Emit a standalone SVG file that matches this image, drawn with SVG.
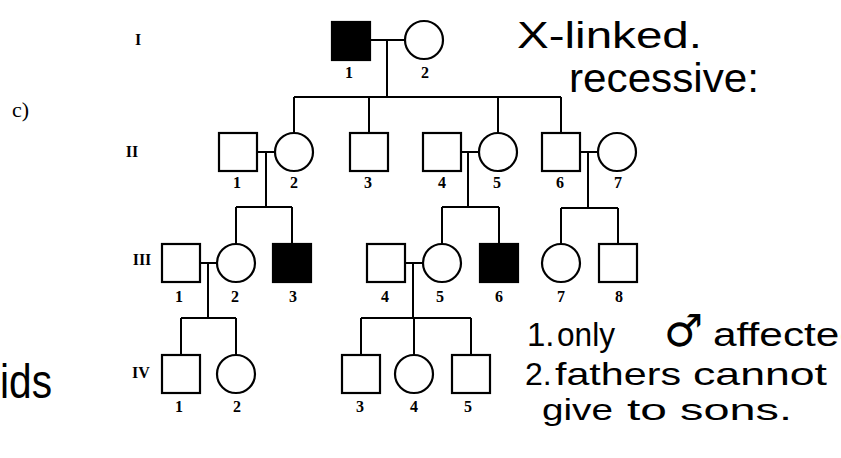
<svg xmlns="http://www.w3.org/2000/svg" width="841" height="458" viewBox="0 0 841 458">
  <style>
    .ln { stroke: #000; stroke-width: 2; fill: none; }
    .open { fill: #fff; stroke: #000; stroke-width: 2.2; }
    .aff { fill: #000; stroke: #000; stroke-width: 2.2; }
    .num { font-family: "Liberation Serif", "Times New Roman", serif; font-weight: bold; font-size: 16px; text-anchor: middle; fill: #000; }
    .gen { font-family: "Liberation Serif", "Times New Roman", serif; font-weight: bold; font-size: 16px; text-anchor: middle; fill: #000; }
    .lbl { font-family: "Liberation Serif", "Times New Roman", serif; font-size: 22px; fill: #000; }
    .hw { font-family: "Liberation Sans", "DejaVu Sans", sans-serif; fill: #000; }
  </style>
  <rect width="841" height="458" fill="#fff"/>

  <!-- part label and generation numerals -->
  <text class="lbl" x="12" y="117">c)</text>
  <text class="gen" x="138" y="45">I</text>
  <text class="gen" x="132" y="157">II</text>
  <text class="gen" x="142" y="265">III</text>
  <text class="gen" x="141" y="378">IV</text>

  <!-- mating, descent and sibship lines -->
  <g id="connectors">
    <!-- generation I -->
    <line class="ln" x1="370" y1="40" x2="405" y2="40"/>
    <line class="ln" x1="387" y1="40" x2="387" y2="97"/>
    <line class="ln" x1="294" y1="97" x2="561" y2="97"/>
    <line class="ln" x1="294" y1="97" x2="294" y2="133"/>
    <line class="ln" x1="369" y1="97" x2="369" y2="133"/>
    <line class="ln" x1="498" y1="97" x2="498" y2="133"/>
    <line class="ln" x1="561" y1="97" x2="561" y2="133"/>
    <!-- generation II couples -->
    <line class="ln" x1="257" y1="152" x2="275" y2="152"/>
    <line class="ln" x1="266" y1="152" x2="266" y2="207"/>
    <line class="ln" x1="236" y1="207" x2="292" y2="207"/>
    <line class="ln" x1="236" y1="207" x2="236" y2="244"/>
    <line class="ln" x1="292" y1="207" x2="292" y2="244"/>
    <line class="ln" x1="461" y1="152" x2="479" y2="152"/>
    <line class="ln" x1="468" y1="152" x2="468" y2="207"/>
    <line class="ln" x1="442" y1="207" x2="499" y2="207"/>
    <line class="ln" x1="442" y1="207" x2="442" y2="244"/>
    <line class="ln" x1="499" y1="207" x2="499" y2="244"/>
    <line class="ln" x1="580" y1="152" x2="598" y2="152"/>
    <line class="ln" x1="588" y1="152" x2="588" y2="208"/>
    <line class="ln" x1="561" y1="208" x2="618" y2="208"/>
    <line class="ln" x1="561" y1="208" x2="561" y2="244"/>
    <line class="ln" x1="618" y1="208" x2="618" y2="244"/>
    <!-- generation III couples -->
    <line class="ln" x1="200" y1="263" x2="217" y2="263"/>
    <line class="ln" x1="208" y1="263" x2="208" y2="318"/>
    <line class="ln" x1="181" y1="318" x2="236" y2="318"/>
    <line class="ln" x1="181" y1="318" x2="181" y2="355"/>
    <line class="ln" x1="236" y1="318" x2="236" y2="355"/>
    <line class="ln" x1="405" y1="263" x2="423" y2="263"/>
    <line class="ln" x1="413" y1="263" x2="413" y2="318"/>
    <line class="ln" x1="361" y1="318" x2="471" y2="318"/>
    <line class="ln" x1="361" y1="318" x2="361" y2="355"/>
    <line class="ln" x1="414" y1="318" x2="414" y2="355"/>
    <line class="ln" x1="471" y1="318" x2="471" y2="355"/>
  </g>

  <!-- generation I -->
  <g id="I-1"><rect class="aff" x="332" y="22" width="38" height="38"/><text class="num" x="349" y="78">1</text></g>
  <g id="I-2"><circle class="open" cx="424" cy="40" r="19"/><text class="num" x="425" y="78">2</text></g>

  <!-- generation II -->
  <g id="II-1"><rect class="open" x="219" y="133" width="38" height="38"/><text class="num" x="237" y="188">1</text></g>
  <g id="II-2"><circle class="open" cx="294" cy="152" r="19"/><text class="num" x="294" y="188">2</text></g>
  <g id="II-3"><rect class="open" x="350" y="133" width="38" height="38"/><text class="num" x="368" y="188">3</text></g>
  <g id="II-4"><rect class="open" x="423" y="133" width="38" height="38"/><text class="num" x="442" y="188">4</text></g>
  <g id="II-5"><circle class="open" cx="498" cy="152" r="19"/><text class="num" x="497" y="188">5</text></g>
  <g id="II-6"><rect class="open" x="542" y="133" width="38" height="38"/><text class="num" x="560" y="188">6</text></g>
  <g id="II-7"><circle class="open" cx="617" cy="152" r="19"/><text class="num" x="618" y="188">7</text></g>

  <!-- generation III -->
  <g id="III-1"><rect class="open" x="162" y="244" width="38" height="38"/><text class="num" x="179" y="302">1</text></g>
  <g id="III-2"><circle class="open" cx="236" cy="263" r="19"/><text class="num" x="235" y="302">2</text></g>
  <g id="III-3"><rect class="aff" x="273" y="244" width="38" height="38"/><text class="num" x="293" y="302">3</text></g>
  <g id="III-4"><rect class="open" x="367" y="244" width="38" height="38"/><text class="num" x="385" y="302">4</text></g>
  <g id="III-5"><circle class="open" cx="442" cy="263" r="19"/><text class="num" x="440" y="302">5</text></g>
  <g id="III-6"><rect class="aff" x="480" y="244" width="38" height="38"/><text class="num" x="499" y="302">6</text></g>
  <g id="III-7"><circle class="open" cx="561" cy="263" r="19"/><text class="num" x="561" y="302">7</text></g>
  <g id="III-8"><rect class="open" x="599" y="244" width="38" height="38"/><text class="num" x="619" y="302">8</text></g>

  <!-- generation IV -->
  <g id="IV-1"><rect class="open" x="162" y="355" width="38" height="38"/><text class="num" x="179" y="412">1</text></g>
  <g id="IV-2"><circle class="open" cx="236" cy="374" r="19"/><text class="num" x="237" y="412">2</text></g>
  <g id="IV-3"><rect class="open" x="342" y="355" width="38" height="38"/><text class="num" x="360" y="412">3</text></g>
  <g id="IV-4"><circle class="open" cx="414" cy="374" r="19"/><text class="num" x="414" y="412">4</text></g>
  <g id="IV-5"><rect class="open" x="452" y="355" width="38" height="38"/><text class="num" x="468" y="412">5</text></g>

  <!-- handwritten notes -->
  <g id="notes">
    <text class="hw" x="517" y="48" font-size="36" textLength="185" lengthAdjust="spacingAndGlyphs">X-linked.</text>
    <text class="hw" x="569" y="92" font-size="40" textLength="190" lengthAdjust="spacingAndGlyphs">recessive:</text>
    <text class="hw" font-size="33" y="346"><tspan x="527">1.</tspan><tspan x="557" textLength="58" lengthAdjust="spacingAndGlyphs">only</tspan><tspan x="664" font-size="44" font-family="DejaVu Sans, sans-serif">♂</tspan><tspan x="713" textLength="150" lengthAdjust="spacingAndGlyphs">affected</tspan></text>
    <text class="hw" font-size="32" y="385"><tspan x="525">2.</tspan><tspan x="555" textLength="126" lengthAdjust="spacingAndGlyphs">fathers</tspan><tspan x="693" textLength="134" lengthAdjust="spacingAndGlyphs">cannot</tspan></text>
    <text class="hw" font-size="30" y="420"><tspan x="542" textLength="71" lengthAdjust="spacingAndGlyphs">give</tspan><tspan x="627" textLength="40" lengthAdjust="spacingAndGlyphs">to</tspan><tspan x="680" textLength="112" lengthAdjust="spacingAndGlyphs">sons.</tspan></text>
    <text class="hw" x="0" y="398" font-size="48" textLength="52" lengthAdjust="spacingAndGlyphs">ids</text>
  </g>
</svg>
